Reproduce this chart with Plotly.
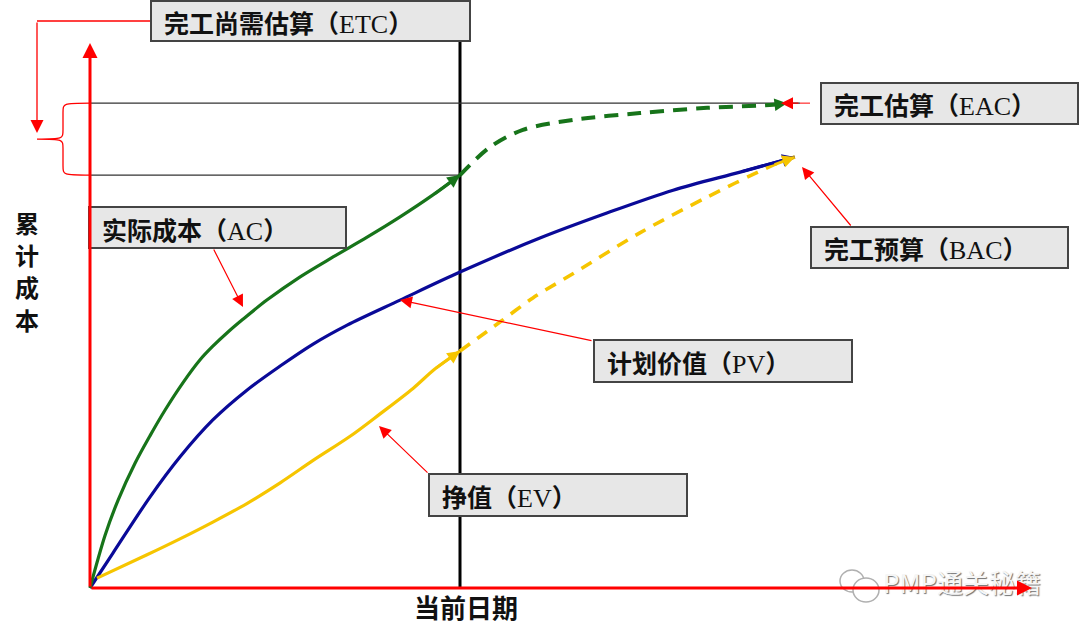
import plotly.graph_objects as go

# ---------------- data (time units, cost units; BAC = 100) ----------------
status_date = 10.0

ac_x = [0, 0.41, 0.76, 1.22, 1.62, 2.03, 2.51, 2.97, 3.32, 3.73, 4.14, 4.78, 5.68, 6.57, 7.49, 8.38, 9.27, 10.0]
ac_y = [0, 12.3, 20.4, 29.0, 35.3, 41.3, 47.6, 52.9, 56.1, 59.4, 62.4, 66.8, 72.2, 76.8, 81.4, 86.1, 91.2, 95.8]

eac_x = [10.0, 10.81, 11.70, 13.05, 14.86, 16.68, 18.46, 18.84]
eac_y = [95.8, 102.3, 106.3, 108.6, 110.2, 111.4, 112.1, 112.5]

pv_x = [0, 0.62, 1.62, 2.43, 3.32, 4.24, 5.14, 6.03, 6.95, 8.38, 10.0, 12.16, 13.97, 15.76, 17.57, 19.05]
pv_y = [0, 8.1, 21.1, 30.4, 39.0, 45.9, 51.5, 56.6, 61.0, 66.8, 73.3, 81.2, 87.0, 92.3, 96.5, 100.0]

ev_x = [0.19, 1.54, 2.43, 3.32, 4.24, 5.14, 6.03, 7.03, 7.84, 8.73, 9.32, 10.0]
ev_y = [2.3, 7.7, 11.4, 15.3, 19.6, 24.4, 29.6, 35.2, 40.4, 46.3, 50.8, 55.0]

ev_fc_x = [10.0, 11.08, 11.97, 13.05, 14.86, 16.68, 18.46, 19.05]
ev_fc_y = [55.0, 61.7, 67.3, 72.9, 82.4, 90.7, 98.1, 100.0]

bac_value = 100.0
eac_value = 112.5
ac_at_date = 95.8

latin = "<span style='font-family:Liberation Serif;font-size:26px;font-weight:normal'>{}</span>"
labels = {
    "etc": "完工尚需估算（" + latin.format("ETC") + "）",
    "eac": "完工估算（" + latin.format("EAC") + "）",
    "ac": "实际成本（" + latin.format("AC") + "）",
    "bac": "完工预算（" + latin.format("BAC") + "）",
    "pv": "计划价值（" + latin.format("PV") + "）",
    "ev": "挣值（" + latin.format("EV") + "）",
}
y_title = ["累", "计", "成", "本"]
x_title = "当前日期"
watermark = "PMP通关秘籍"

# ---------------- styling / layout ----------------
W, H = 1080, 630
X0, Y0 = 90, 588          # pixel position of origin
SX, SY = 37.0, 4.31       # pixels per data unit
x_range = [-X0 / SX, (W - X0) / SX]
y_range = [-(H - Y0) / SY, Y0 / SY]

GREEN = "#17741a"
BLUE = "#0a0a98"
YELLOW = "#f6c500"
RED = "#ff0000"
FONT = "Noto Sans CJK SC"


def px(x):
    return x / W


def py(y):
    return 1 - y / H


def dx(p):
    return (p - X0) / SX


def dy(p):
    return (Y0 - p) / SY


fig = go.Figure()
sm = 0.9
fig.add_trace(go.Scatter(x=pv_x, y=pv_y, mode="lines",
                         line=dict(color=BLUE, width=3.2, shape="spline", smoothing=sm)))
fig.add_trace(go.Scatter(x=ev_fc_x, y=ev_fc_y, mode="lines",
                         line=dict(color=YELLOW, width=3.6, dash="12px,9px", shape="spline", smoothing=sm)))
fig.add_trace(go.Scatter(x=ev_x, y=ev_y, mode="lines",
                         line=dict(color=YELLOW, width=3.2, shape="spline", smoothing=sm)))
fig.add_trace(go.Scatter(x=eac_x, y=eac_y, mode="lines",
                         line=dict(color=GREEN, width=4, dash="14px,9px", shape="spline", smoothing=sm)))
fig.add_trace(go.Scatter(x=ac_x, y=ac_y, mode="lines",
                         line=dict(color=GREEN, width=3.2, shape="spline", smoothing=sm)))

shapes = []
# current date vertical line
shapes.append(dict(type="line", xref="x", yref="y", x0=status_date, x1=status_date, y0=0, y1=dy(30),
                   line=dict(color="black", width=3), layer="below"))
# horizontal reference lines
shapes.append(dict(type="line", xref="x", yref="y", x0=0, x1=dx(800), y0=eac_value, y1=eac_value,
                   line=dict(color="#333333", width=1.3), layer="below"))
shapes.append(dict(type="line", xref="x", yref="y", x0=0, x1=status_date, y0=ac_at_date, y1=ac_at_date,
                   line=dict(color="#333333", width=1.3), layer="below"))
shapes.append(dict(type="line", xref="x", yref="y", x0=dx(800), x1=dx(810), y0=eac_value, y1=eac_value,
                   line=dict(color=RED, width=1), layer="below"))

# brace
top, bot = eac_value, ac_at_date
mid = (top + bot) / 2
xb = dx(63)
xt = dx(37)
r = 2.2
brace = (f"M 0,{top} C {xb},{top} {xb},{top} {xb},{top - r} "
         f"L {xb},{mid + r} C {xb},{mid} {xb},{mid} {xt},{mid} "
         f"C {xb},{mid} {xb},{mid} {xb},{mid - r} "
         f"L {xb},{bot + r} C {xb},{bot} {xb},{bot} 0,{bot}")
shapes.append(dict(type="path", xref="x", yref="y", path=brace, line=dict(color=RED, width=1.3)))
# ETC connector
shapes.append(dict(type="line", xref="x", yref="y", x0=dx(151), x1=dx(37), y0=dy(21), y1=dy(21),
                   line=dict(color=RED, width=1.3)))

# label boxes (pixel boxes)
boxes = {
    "etc": (151, 1, 470, 41),
    "eac": (821, 83, 1078, 124),
    "ac": (89, 207, 346, 248),
    "bac": (811, 227, 1068, 268),
    "pv": (594, 340, 852, 382),
    "ev": (429, 474, 687, 516),
}
for k, (x0, y0, x1, y1) in boxes.items():
    shapes.append(dict(type="rect", xref="paper", yref="paper", x0=px(x0), x1=px(x1), y0=py(y1), y1=py(y0),
                       fillcolor="#e7e7e7", line=dict(color="#444444", width=2), layer="above"))

# watermark icon
shapes.append(dict(type="circle", xref="paper", yref="paper", x0=px(840), x1=px(864), y0=py(592), y1=py(570),
                   fillcolor="white", line=dict(color="#b0b0b0", width=1.5), layer="above"))
shapes.append(dict(type="circle", xref="paper", yref="paper", x0=px(853), x1=px(879), y0=py(602), y1=py(578),
                   fillcolor="white", line=dict(color="#b0b0b0", width=1.5), layer="above"))

annotations = []
for k, (x0, y0, x1, y1) in boxes.items():
    annotations.append(dict(xref="paper", yref="paper", x=px(x0 + 11), y=py((y0 + y1) / 2 + 1),
                            xanchor="left", yanchor="middle", showarrow=False, text=labels[k],
                            font=dict(family=FONT, size=25, color="#111111", weight="bold")))

for i, ch in enumerate(y_title):
    annotations.append(dict(xref="paper", yref="paper", x=px(27), y=py(222 + i * 32.5),
                            xanchor="center", yanchor="middle", showarrow=False, text=ch,
                            font=dict(family=FONT, size=24, color="#111111", weight="bold")))
annotations.append(dict(xref="paper", yref="paper", x=px(466), y=py(606), xanchor="center", yanchor="middle",
                        showarrow=False, text=x_title,
                        font=dict(family=FONT, size=26, color="#111111", weight="bold")))
annotations.append(dict(xref="paper", yref="paper", x=px(881), y=py(581), xanchor="left", yanchor="middle",
                        showarrow=False, text=watermark,
                        font=dict(family=FONT, size=26, color="#f6f6f6", shadow="1px 1px 1px #707070")))


def arrow(x, y, ax, ay, color, width, size=1.0, head=2):
    annotations.append(dict(x=x, y=y, ax=ax, ay=ay, xref="x", yref="y", axref="x", ayref="y", text="",
                            showarrow=True, arrowhead=head, arrowsize=size, arrowwidth=width,
                            arrowcolor=color, standoff=0, startstandoff=0))


# red axes
arrow(0, dy(43), 0, 0, RED, 3, 1.0)
arrow(dx(1032), 0, 0, 0, RED, 3, 1.0)
# curve-end arrowheads
arrow(ac_x[-1], ac_y[-1], ac_x[-2], ac_y[-2], GREEN, 2.8, 0.9)
arrow(ev_x[-1], ev_y[-1], ev_x[-2], ev_y[-2], YELLOW, 2.8, 0.9)
arrow(pv_x[-1], pv_y[-1], pv_x[-2], pv_y[-2], BLUE, 2.8, 0.9)
arrow(ev_fc_x[-1], ev_fc_y[-1], ev_fc_x[-2], ev_fc_y[-2], YELLOW, 2.8, 0.9)
arrow(eac_x[-1], eac_y[-1], eac_x[-2], eac_y[-2], GREEN, 2.8, 0.9)
# red pointers from labels
arrow(dx(781), eac_value, dx(800), eac_value, RED, 1.2, 2.0)
arrow(dx(37), dy(133), dx(37), dy(21), RED, 1.3, 2.0)
arrow(dx(243), dy(307), dx(213), dy(248), RED, 1.2, 2.0)
arrow(dx(400), dy(300), dx(593), dy(341), RED, 1.2, 2.0)
arrow(dx(379), dy(426), dx(429), dy(474), RED, 1.2, 2.0)
arrow(dx(802), dy(167), dx(852), dy(227), RED, 1.2, 2.0)

fig.update_layout(
    width=W, height=H,
    margin=dict(l=0, r=0, t=0, b=0),
    paper_bgcolor="white", plot_bgcolor="white",
    showlegend=False,
    xaxis=dict(range=x_range, visible=False, fixedrange=True),
    yaxis=dict(range=y_range, visible=False, fixedrange=True),
    shapes=shapes,
    annotations=annotations,
)

fig.write_html("out.html")
